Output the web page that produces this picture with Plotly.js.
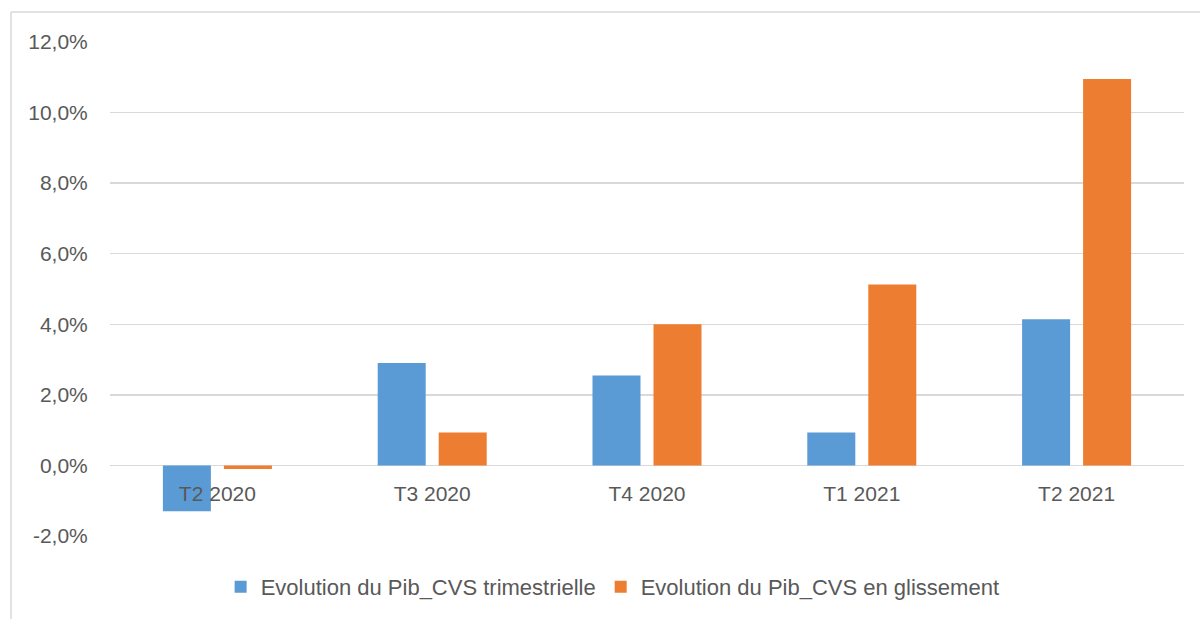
<!DOCTYPE html>
<html><head><meta charset="utf-8">
<script src="https://cdn.plot.ly/plotly-3.0.1.min.js"></script>
<style>html,body{margin:0;padding:0;background:#fff}#c{width:1200px;height:619px}</style>
</head><body><div id="c"></div>
<script>
const categories = ["T2 2020", "T3 2020", "T4 2020", "T1 2021", "T2 2021"];
const trimestrielle = [-1.3, 2.9, 2.55, 0.93, 4.14];
const glissement = [-0.1, 0.93, 4.0, 5.13, 10.95];
const seriesNames = ["Evolution du Pib_CVS trimestrielle", "Evolution du Pib_CVS en glissement"];
const yTicks = [-2, 0, 2, 4, 6, 8, 10, 12];
const yTickText = yTicks.map(v => v.toFixed(1).replace('.', ',') + '%');

const fontFam = '"Liberation Sans", Arial, sans-serif';
const data = [
  {type:'bar', name:seriesNames[0], x:categories, y:trimestrielle, marker:{color:'#5B9BD5'}},
  {type:'bar', name:seriesNames[1], x:categories, y:glissement, marker:{color:'#ED7D31'}}
];
const H = 619-42-83;
const layout = {
  width:1200, height:619,
  margin:{l:110, r:16, t:42, b:83, autoexpand:false},
  paper_bgcolor:'#fff', plot_bgcolor:'#fff',
  barmode:'group', bargap:0.432, bargroupgap:0.213,
  font:{family:fontFam, color:'#595959', size:21},
  xaxis:{anchor:'free', position:2/14, showline:false, showgrid:false, zeroline:false, automargin:false,
         ticks:'outside', ticklen:9, tickcolor:'rgba(0,0,0,0)', tickfont:{size:21, color:'#595959'}},
  yaxis:{range:[-2,12], tickvals:yTicks, ticktext:yTickText, showgrid:true, gridcolor:'#d9d9d9', gridwidth:1.5, automargin:false,
         zeroline:false, showline:false, ticks:'outside', ticklen:17, tickcolor:'rgba(0,0,0,0)', tickfont:{size:21, color:'#595959'}},
  showlegend:true,
  legend:{orientation:'h', x:0.468, xanchor:'center', yref:'container', y:1-587/619, yanchor:'middle',
          font:{size:22, color:'#595959'}, itemwidth:30, tracegroupgap:0},
  shapes:[
    {type:'line', xref:'paper', yref:'paper', x0:(11-110)/1074, x1:(11-110)/1074, y0:1+(42-12)/H, y1:-1, line:{color:'#d9d9d9', width:1.5}},
    {type:'line', xref:'paper', yref:'paper', x0:(11-110)/1074, x1:2, y0:1+(42-12)/H, y1:1+(42-12)/H, line:{color:'#d9d9d9', width:1.5}}
  ]
};
Plotly.newPlot('c', data, layout, {displayModeBar:false, staticPlot:true});
</script></body></html>
